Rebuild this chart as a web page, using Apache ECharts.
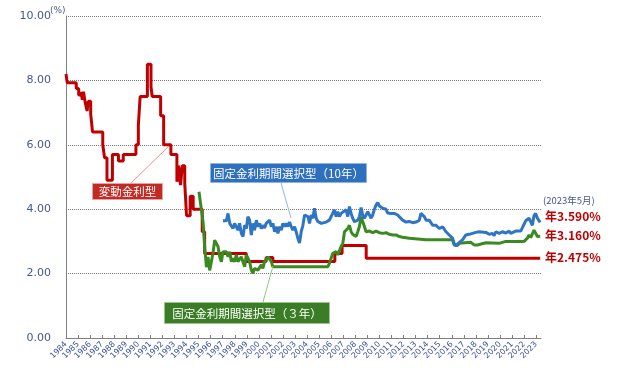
<!DOCTYPE html>
<html>
<head>
<meta charset="utf-8">
<script src="https://cdn.jsdelivr.net/npm/echarts@6/dist/echarts.min.js"></script>
<style>html,body{margin:0;padding:0;background:#fff}#c{width:620px;height:379px}</style>
</head>
<body>
<div id="c"></div>
<script>
// 変動金利型
const variableYears = [1984.0,1984.1,1984.85,1985.05,1985.25,1985.35,1985.45,1985.6,1985.75,1985.85,1986.05,1986.2,1987.05,1987.2,1987.4,1987.85,1988.35,1988.75,1989.8,1990.0,1990.15,1990.75,1991.05,1991.15,1991.85,1992.1,1992.7,1993.2,1993.35,1993.5,1993.65,1993.85,1994.0,1994.3,1994.55,1995.3,1995.5,1998.96,2000.6,2001.16,2006.3,2006.9,2008.9,2023.33];
const variableRates = [8.2,7.93,7.75,7.55,7.65,7.4,7.65,7.3,7.05,7.35,6.95,6.4,6.0,5.6,4.9,5.7,5.5,5.7,6.0,6.6,7.5,8.5,7.8,7.5,6.9,6.0,5.7,4.85,5.35,4.75,5.35,4.8,3.8,4.4,4.0,3.3,2.625,2.375,2.5,2.375,2.625,2.875,2.475,2.475];

// 固定金利期間選択型（３年）
const fixed3Years = [1995.03,1995.37,1995.5,1995.65,1995.78,1995.92,1996.06,1996.19,1996.33,1996.48,1996.61,1996.75,1996.89,1997.02,1997.3,1997.44,1997.58,1997.72,1997.85,1997.99,1998.13,1998.26,1998.4,1998.54,1998.68,1998.82,1998.96,1999.09,1999.23,1999.37,1999.5,1999.64,1999.79,1999.92,2000.06,2000.2,2000.33,2000.47,2000.61,2000.75,2000.89,2001.03,2001.16,2001.3,2005.71,2005.85,2005.99,2006.13,2006.41,2006.54,2006.68,2006.82,2006.96,2007.1,2007.24,2007.37,2007.51,2007.65,2007.78,2007.92,2008.06,2008.2,2008.34,2008.48,2008.61,2008.75,2008.89,2009.03,2009.17,2009.44,2009.72,2009.99,2010.27,2010.55,2010.82,2011.1,2011.38,2011.65,2011.92,2012.48,2013.86,2016.06,2016.2,2016.47,2016.61,2017.58,2017.85,2018.13,2018.27,2018.83,2018.97,2019.93,2020.48,2022.0,2022.27,2022.41,2022.55,2022.82,2022.96,2023.1,2023.33];
const fixed3Rates = [4.54,3.6,2.84,2.2,2.52,2.1,2.1,2.63,3.04,3.1,2.84,2.52,2.37,2.68,2.68,2.52,2.68,2.37,2.47,2.37,2.58,2.37,2.42,2.52,2.37,2.21,2.58,2.63,2.37,2.11,2.01,2.16,2.1,2.11,2.08,2.27,2.16,2.37,2.42,2.52,2.47,2.37,2.21,2.21,2.21,2.32,2.37,2.63,2.68,2.58,2.62,2.84,2.94,3.3,3.25,3.4,3.5,3.3,3.22,3.25,3.15,3.3,3.46,3.77,3.62,3.46,3.3,3.25,3.32,3.27,3.32,3.27,3.25,3.27,3.22,3.2,3.2,3.15,3.13,3.1,3.05,3.05,2.89,2.87,2.94,2.97,2.89,2.89,2.94,2.96,2.92,2.94,3.0,3.0,3.1,3.2,3.12,3.35,3.3,3.15,3.16];

// 固定金利期間選択型（10年）
const fixed10Years = [1997.02,1997.3,1997.44,1997.58,1997.72,1997.85,1997.99,1998.13,1998.26,1998.4,1998.54,1998.68,1998.82,1998.96,1999.09,1999.23,1999.37,1999.5,1999.64,1999.79,1999.92,2000.06,2000.2,2000.33,2000.47,2000.61,2000.75,2000.89,2001.03,2001.16,2001.3,2001.44,2001.58,2001.72,2001.86,2001.99,2002.13,2002.27,2002.4,2002.54,2002.68,2002.82,2002.96,2003.09,2003.23,2003.37,2003.51,2003.65,2003.79,2003.93,2004.07,2004.2,2004.34,2004.48,2004.61,2004.75,2004.89,2005.03,2005.17,2005.3,2005.58,2005.71,2005.85,2005.99,2006.13,2006.26,2006.41,2006.54,2006.68,2006.82,2006.96,2007.24,2007.37,2007.51,2007.65,2007.78,2007.92,2008.06,2008.2,2008.34,2008.48,2008.61,2008.75,2008.89,2009.03,2009.17,2009.31,2009.44,2009.58,2009.72,2009.86,2009.99,2010.13,2010.27,2010.4,2010.55,2010.68,2010.82,2010.96,2011.23,2011.37,2011.51,2011.65,2011.92,2012.2,2012.48,2012.75,2013.03,2013.16,2013.3,2013.44,2013.58,2013.72,2013.86,2014.13,2014.41,2014.69,2014.96,2015.24,2015.52,2015.79,2016.06,2016.2,2016.34,2016.47,2016.61,2016.89,2017.17,2017.44,2017.99,2018.27,2018.83,2019.1,2019.37,2019.51,2019.65,2019.93,2020.2,2020.48,2020.75,2020.89,2021.3,2021.72,2021.85,2022.13,2022.27,2022.41,2022.68,2022.82,2022.96,2023.1,2023.33];
const fixed10Rates = [3.64,3.64,3.87,3.56,3.56,3.4,3.56,3.5,3.35,3.56,3.25,3.15,3.5,3.4,3.77,3.66,3.2,3.56,3.35,3.66,3.46,3.56,3.4,3.5,3.42,3.56,3.5,3.66,3.46,3.56,3.3,3.46,3.25,3.46,3.35,3.56,3.46,3.56,3.46,3.6,3.46,3.35,3.46,3.3,3.1,2.95,3.3,3.5,3.82,3.87,3.77,3.56,3.82,3.72,4.03,3.72,3.62,3.66,3.56,3.5,3.6,3.56,3.66,3.77,3.72,3.98,3.77,3.92,3.77,3.87,3.82,3.98,3.77,4.08,3.87,3.72,3.61,3.56,3.66,3.77,4.05,3.82,3.72,3.82,3.92,3.88,3.72,3.82,4.0,4.13,4.2,4.1,4.13,4.03,3.98,4.0,3.88,3.82,3.87,3.87,3.92,3.82,3.77,3.66,3.6,3.62,3.58,3.6,3.66,3.65,3.87,3.92,3.77,3.66,3.66,3.5,3.5,3.4,3.45,3.3,3.2,3.1,2.94,2.87,2.9,2.96,3.05,3.2,3.22,3.28,3.3,3.28,3.22,3.25,3.18,3.3,3.25,3.3,3.26,3.32,3.25,3.32,3.32,3.42,3.64,3.58,3.72,3.5,3.8,3.87,3.72,3.59];

const yTicks = [0, 2, 4, 6, 8, 10];
const endLabels = ['年3.590%', '年3.160%', '年2.475%'];
const dateNote = '(2023年5月)';
const seriesNames = ['変動金利型', '固定金利期間選択型（３年）', '固定金利期間選択型（10年）'];

const pair = (xs, ys) => xs.map((x, i) => [x, ys[i]]);
const jp = '"Noto Sans CJK JP", sans-serif';

const chart = echarts.init(document.getElementById('c'), null, {renderer: 'canvas'});

function box(x, y, w, h, fill, stroke, text) {
  return [
    {type: 'rect', shape: {x: x, y: y, width: w, height: h}, z: 100,
     style: {fill: fill, stroke: stroke, lineWidth: 1}},
    {type: 'text', x: x + w / 2, y: y + h / 2 + 0.5, z: 101,
     style: {text: text, fill: '#fff', fontSize: 11.5, fontFamily: jp, align: 'center', verticalAlign: 'middle'}}
  ];
}
function conn(x1, y1, x2, y2, color) {
  return {type: 'line', z: 99, shape: {x1: x1, y1: y1, x2: x2, y2: y2}, style: {stroke: color, lineWidth: 1}};
}

chart.setOption({
  animation: false,
  backgroundColor: '#fff',
  grid: {left: 66, right: 79, top: 16, bottom: 41, containLabel: false},
  xAxis: {
    type: 'value', min: 1984, max: 2023.4, interval: 1,
    axisLine: {show: true, lineStyle: {color: '#808080', width: 1}},
    axisTick: {show: true, inside: true, length: 3, lineStyle: {color: '#808080'}},
    splitLine: {show: false},
    axisLabel: {
      rotate: 45, fontSize: 8, color: '#3a5196', margin: 5, fontFamily: 'DejaVu Sans',
      showMaxLabel: false,
      formatter: v => (Math.abs(v - Math.round(v)) < 1e-6 ? String(Math.round(v)) : '')
    }
  },
  yAxis: {
    type: 'value', min: yTicks[0], max: yTicks[yTicks.length - 1], interval: 2,
    axisLine: {show: true, lineStyle: {color: '#808080', width: 1}},
    axisTick: {show: false},
    splitLine: {show: true, lineStyle: {color: '#7a7a7a', type: [1, 1], width: 1}},
    axisLabel: {fontSize: 11, color: '#44588f', margin: 15, fontFamily: 'DejaVu Sans',
      formatter: v => v.toFixed(2)}
  },
  series: [
    {name: seriesNames[0], type: 'line', step: 'end', data: pair(variableYears, variableRates),
     showSymbol: false, lineStyle: {color: '#c00000', width: 3}, z: 2},
    {name: seriesNames[1], type: 'line', data: pair(fixed3Years, fixed3Rates),
     showSymbol: false, lineStyle: {color: '#3a8a22', width: 3}, z: 3},
    {name: seriesNames[2], type: 'line', data: pair(fixed10Years, fixed10Rates),
     showSymbol: false, lineStyle: {color: '#2e75c6', width: 3}, z: 4}
  ],
  graphic: [
    {type: 'text', x: 50, y: 6, style: {text: '(%)', fontSize: 9, fill: '#44588f', fontFamily: 'DejaVu Sans'}},
    conn(130, 184, 169, 146, '#e89090'),
    ...box(92.5, 183.5, 70, 16, '#c22a24', '#e7a3a0', seriesNames[0]),
    conn(281, 183, 291, 218, '#8fb8e6'),
    ...box(210.5, 163.5, 156, 19, '#2e6fbe', '#8fb3e0', seriesNames[2]),
    conn(263, 302, 273, 266, '#8fc87a'),
    ...box(164.5, 302.5, 165, 21, '#3b7d27', '#9cc48c', seriesNames[1]),
    {type: 'text', x: 543, y: 196, style: {text: dateNote, fontSize: 9.5, fill: '#44588f', fontFamily: jp}},
    {type: 'text', x: 545, y: 210, style: {text: endLabels[0], fontSize: 12, fontWeight: 'bold', fill: '#c00000', fontFamily: jp}},
    {type: 'text', x: 545, y: 229, style: {text: endLabels[1], fontSize: 12, fontWeight: 'bold', fill: '#c00000', fontFamily: jp}},
    {type: 'text', x: 545, y: 251, style: {text: endLabels[2], fontSize: 12, fontWeight: 'bold', fill: '#c00000', fontFamily: jp}}
  ]
});
</script>
</body>
</html>
